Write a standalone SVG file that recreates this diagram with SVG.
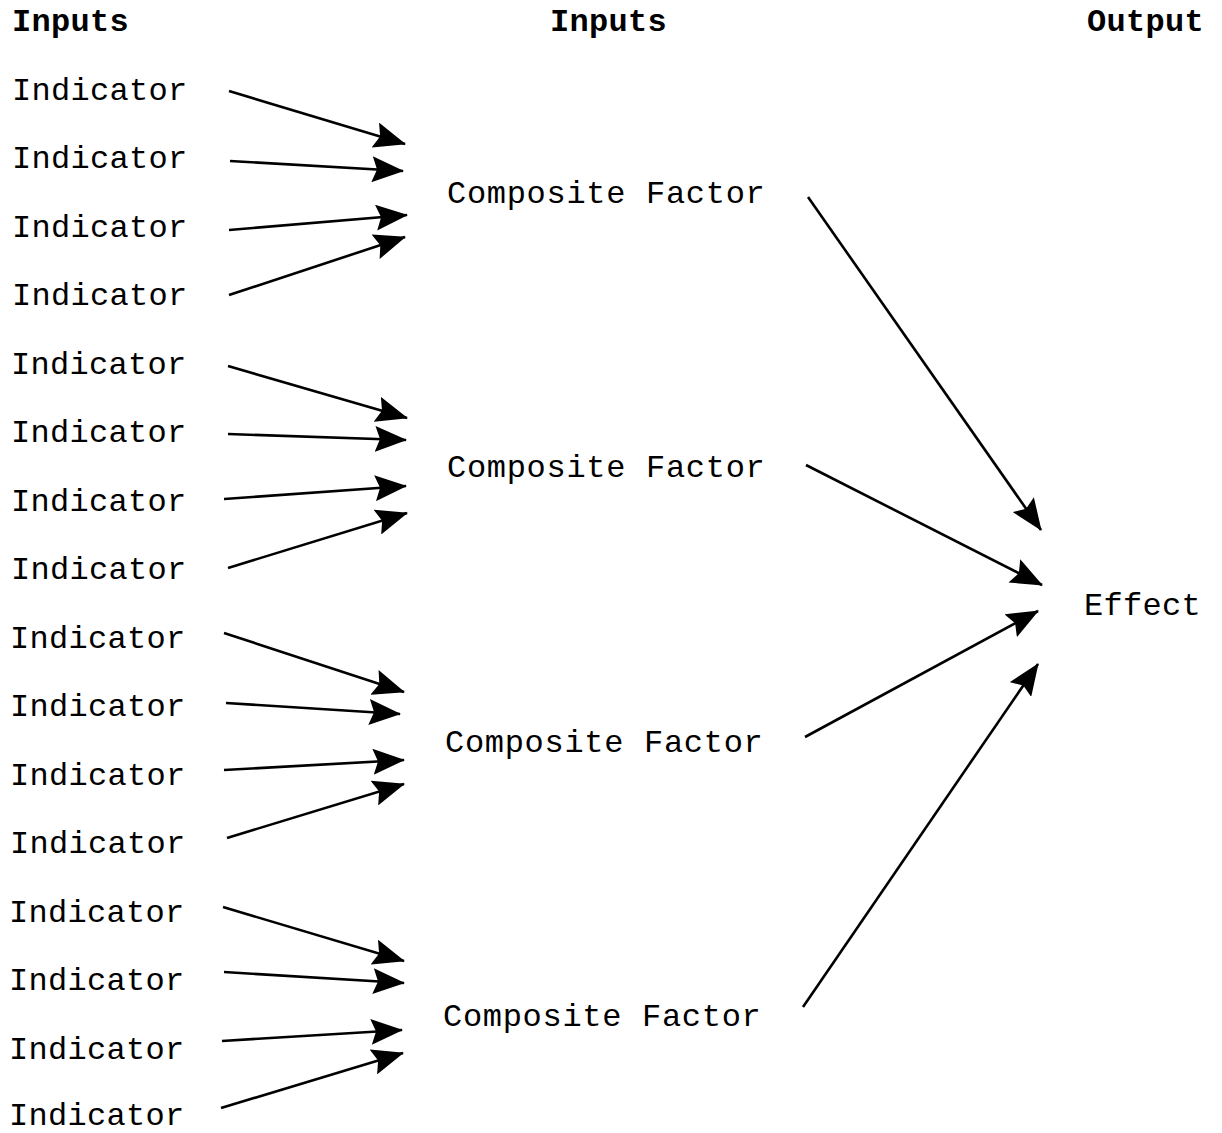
<svg xmlns="http://www.w3.org/2000/svg" width="1222" height="1133" viewBox="0 0 1222 1133">
  <style>
    text { font-family: "Liberation Mono", "Courier New", monospace; font-size: 32px; fill: #000; letter-spacing: 0.3px; }
    .hdr { font-weight: bold; }
    .cf { letter-spacing: 0.7px; }
    .edge { stroke: #000; stroke-width: 2.6; fill: none; marker-end: url(#head); }
  </style>
  <defs>
    <marker id="head" markerUnits="userSpaceOnUse" viewBox="0 0 32 26" markerWidth="32" markerHeight="26" refX="31" refY="13" orient="auto">
      <path d="M0,0 L32,13 L0,26 L5,13 Z" fill="#000"/>
    </marker>
  </defs>
  <rect width="1222" height="1133" fill="#fff"/>

  <!-- column headers -->
  <g id="headers">
    <text class="hdr" x="12" y="31">Inputs</text>
    <text class="hdr" x="550" y="31">Inputs</text>
    <text class="hdr" x="1087" y="31">Output</text>
  </g>

  <!-- indicators -->
  <g id="ind1"><text x="12" y="100">Indicator</text></g>
  <g id="ind2"><text x="12" y="168">Indicator</text></g>
  <g id="ind3"><text x="12" y="237">Indicator</text></g>
  <g id="ind4"><text x="12" y="305">Indicator</text></g>
  <g id="ind5"><text x="11" y="374">Indicator</text></g>
  <g id="ind6"><text x="11" y="442">Indicator</text></g>
  <g id="ind7"><text x="11" y="511">Indicator</text></g>
  <g id="ind8"><text x="11" y="579">Indicator</text></g>
  <g id="ind9"><text x="10" y="648">Indicator</text></g>
  <g id="ind10"><text x="10" y="716">Indicator</text></g>
  <g id="ind11"><text x="10" y="785">Indicator</text></g>
  <g id="ind12"><text x="10" y="853">Indicator</text></g>
  <g id="ind13"><text x="9" y="922">Indicator</text></g>
  <g id="ind14"><text x="9" y="990">Indicator</text></g>
  <g id="ind15"><text x="9" y="1059">Indicator</text></g>
  <g id="ind16"><text x="9" y="1125">Indicator</text></g>

  <!-- composite factors -->
  <g id="cf1"><text class="cf" x="447" y="203">Composite Factor</text></g>
  <g id="cf2"><text class="cf" x="447" y="477">Composite Factor</text></g>
  <g id="cf3"><text class="cf" x="445" y="752">Composite Factor</text></g>
  <g id="cf4"><text class="cf" x="443" y="1026">Composite Factor</text></g>

  <!-- output -->
  <g id="effect"><text x="1084" y="615">Effect</text></g>

  <!-- connectors -->
  <g id="connectors">
    <line class="edge" x1="229" y1="91" x2="405" y2="144"/>
    <line class="edge" x1="230" y1="161" x2="403" y2="171"/>
    <line class="edge" x1="229" y1="230" x2="407" y2="215"/>
    <line class="edge" x1="229" y1="295" x2="405" y2="237"/>

    <line class="edge" x1="228" y1="366" x2="407" y2="418"/>
    <line class="edge" x1="228" y1="434" x2="406" y2="440"/>
    <line class="edge" x1="224" y1="499" x2="406" y2="486"/>
    <line class="edge" x1="228" y1="568" x2="407" y2="513"/>

    <line class="edge" x1="224" y1="633" x2="404" y2="692"/>
    <line class="edge" x1="226" y1="703" x2="400" y2="714"/>
    <line class="edge" x1="224" y1="770" x2="404" y2="760"/>
    <line class="edge" x1="227" y1="838" x2="404" y2="784"/>

    <line class="edge" x1="223" y1="907" x2="404" y2="961"/>
    <line class="edge" x1="224" y1="972" x2="404" y2="983"/>
    <line class="edge" x1="222" y1="1041" x2="402" y2="1030"/>
    <line class="edge" x1="221" y1="1108" x2="403" y2="1053"/>

    <line class="edge" x1="808" y1="197" x2="1041" y2="530"/>
    <line class="edge" x1="806" y1="465" x2="1042" y2="585"/>
    <line class="edge" x1="805" y1="737" x2="1038" y2="611"/>
    <line class="edge" x1="803" y1="1007" x2="1038" y2="664"/>
  </g>
</svg>
